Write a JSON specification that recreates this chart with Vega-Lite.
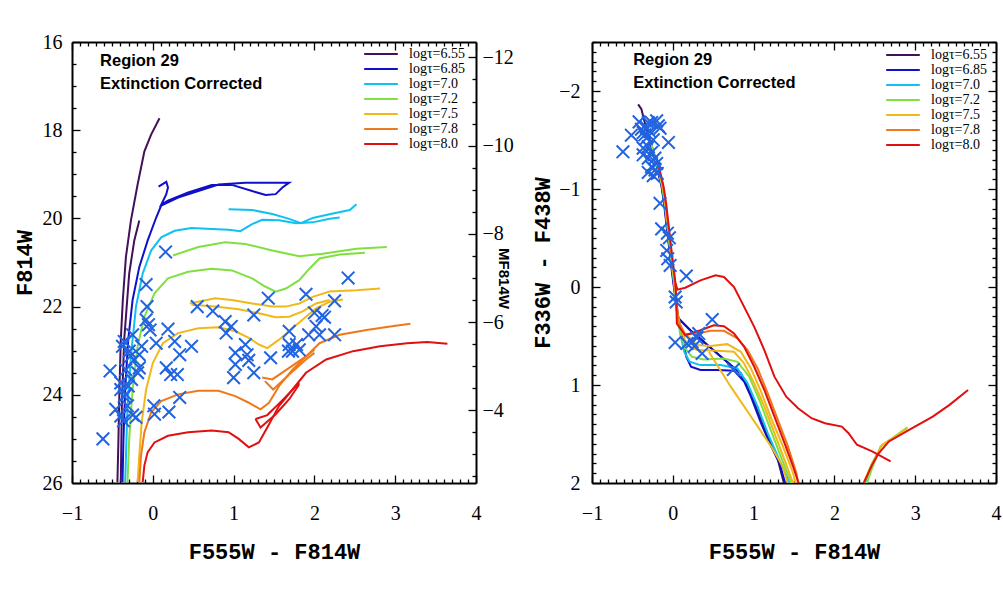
{
"$schema": "https://vega.github.io/schema/vega-lite/v6.json",
"autosize": {"type": "pad"},
"padding": {"left": 13, "top": 32, "right": 5, "bottom": 5},
"background": "white",
"bounds": "flush",
"spacing": 116,
"config": {
  "view": {"stroke": null},
  "axis": {"grid": false, "domainColor": "#000", "domainWidth": 2, "tickColor": "#000", "tickWidth": 1.3,
    "labelFont": "Liberation Serif", "labelFontSize": 20, "labelColor": "#000",
    "titleFont": "Liberation Mono", "titleFontWeight": "bold", "titleFontSize": 22, "titleColor": "#000",
    "labelFlush": false, "labelOverlap": false, "labelBound": false},
  "legend": {"labelColor": "#000"}
},
"datasets": {
"isoL": [
{"a":"6.55","s":"P1","i":0,"x":-0.438,"y":25.98},{"a":"6.55","s":"P1","i":1,"x":-0.425,"y":25.0},{"a":"6.55","s":"P1","i":2,"x":-0.413,"y":23.88},{"a":"6.55","s":"P1","i":3,"x":-0.396,"y":22.75},{"a":"6.55","s":"P1","i":4,"x":-0.371,"y":21.85},{"a":"6.55","s":"P1","i":5,"x":-0.333,"y":20.88},{"a":"6.55","s":"P1","i":6,"x":-0.271,"y":20.05},{"a":"6.55","s":"P1","i":7,"x":-0.188,"y":19.23},{"a":"6.55","s":"P1","i":8,"x":-0.104,"y":18.48},{"a":"6.55","s":"P1","i":9,"x":-0.021,"y":18.1},{"a":"6.55","s":"P1","i":10,"x":0.083,"y":17.73},
{"a":"6.55","s":"P2","i":0,"x":-0.396,"y":25.98},{"a":"6.55","s":"P2","i":1,"x":-0.383,"y":24.25},{"a":"6.55","s":"P2","i":2,"x":-0.354,"y":22.75},{"a":"6.55","s":"P2","i":3,"x":-0.292,"y":21.25},{"a":"6.55","s":"P2","i":4,"x":-0.229,"y":20.5},{"a":"6.55","s":"P2","i":5,"x":-0.167,"y":20.05},
{"a":"6.85","s":"B1","i":0,"x":-0.375,"y":25.98},{"a":"6.85","s":"B1","i":1,"x":-0.363,"y":25.0},{"a":"6.85","s":"B1","i":2,"x":-0.342,"y":23.88},{"a":"6.85","s":"B1","i":3,"x":-0.304,"y":22.75},{"a":"6.85","s":"B1","i":4,"x":-0.25,"y":21.85},{"a":"6.85","s":"B1","i":5,"x":-0.167,"y":21.1},{"a":"6.85","s":"B1","i":6,"x":-0.063,"y":20.5},{"a":"6.85","s":"B1","i":7,"x":0.042,"y":19.98},{"a":"6.85","s":"B1","i":8,"x":0.104,"y":19.71},{"a":"6.85","s":"B1","i":9,"x":0.313,"y":19.53},{"a":"6.85","s":"B1","i":10,"x":0.563,"y":19.38},{"a":"6.85","s":"B1","i":11,"x":0.813,"y":19.23},{"a":"6.85","s":"B1","i":12,"x":1.146,"y":19.19},{"a":"6.85","s":"B1","i":13,"x":1.479,"y":19.19},{"a":"6.85","s":"B1","i":14,"x":1.688,"y":19.19},{"a":"6.85","s":"B1","i":15,"x":1.604,"y":19.3},{"a":"6.85","s":"B1","i":16,"x":1.521,"y":19.45},{"a":"6.85","s":"B1","i":17,"x":1.396,"y":19.47},{"a":"6.85","s":"B1","i":18,"x":1.229,"y":19.38},{"a":"6.85","s":"B1","i":19,"x":0.979,"y":19.24},{"a":"6.85","s":"B1","i":20,"x":0.729,"y":19.24},{"a":"6.85","s":"B1","i":21,"x":0.438,"y":19.41},{"a":"6.85","s":"B1","i":22,"x":0.188,"y":19.6},{"a":"6.85","s":"B1","i":23,"x":0.104,"y":19.69},{"a":"6.85","s":"B1","i":24,"x":0.167,"y":19.45},{"a":"6.85","s":"B1","i":25,"x":0.188,"y":19.3},{"a":"6.85","s":"B1","i":26,"x":0.167,"y":19.17},{"a":"6.85","s":"B1","i":27,"x":0.071,"y":19.28},
{"a":"7.0","s":"C1","i":0,"x":-0.342,"y":25.98},{"a":"7.0","s":"C1","i":1,"x":-0.313,"y":24.25},{"a":"7.0","s":"C1","i":2,"x":-0.271,"y":23.13},{"a":"7.0","s":"C1","i":3,"x":-0.208,"y":22.0},{"a":"7.0","s":"C1","i":4,"x":-0.125,"y":21.25},{"a":"7.0","s":"C1","i":5,"x":-0.021,"y":20.73},{"a":"7.0","s":"C1","i":6,"x":0.104,"y":20.43},{"a":"7.0","s":"C1","i":7,"x":0.271,"y":20.28},{"a":"7.0","s":"C1","i":8,"x":0.479,"y":20.22},{"a":"7.0","s":"C1","i":9,"x":0.729,"y":20.24},{"a":"7.0","s":"C1","i":10,"x":0.938,"y":20.26},{"a":"7.0","s":"C1","i":11,"x":1.083,"y":20.29},{"a":"7.0","s":"C1","i":12,"x":1.229,"y":20.13},{"a":"7.0","s":"C1","i":13,"x":1.354,"y":20.03},{"a":"7.0","s":"C1","i":14,"x":1.563,"y":20.04},{"a":"7.0","s":"C1","i":15,"x":1.771,"y":20.11},{"a":"7.0","s":"C1","i":16,"x":1.979,"y":20.09},{"a":"7.0","s":"C1","i":17,"x":2.188,"y":20.01},{"a":"7.0","s":"C1","i":18,"x":2.313,"y":19.98},
{"a":"7.0","s":"C2","i":0,"x":0.938,"y":19.79},{"a":"7.0","s":"C2","i":1,"x":1.229,"y":19.81},{"a":"7.0","s":"C2","i":2,"x":1.479,"y":19.9},{"a":"7.0","s":"C2","i":3,"x":1.688,"y":20.01},{"a":"7.0","s":"C2","i":4,"x":1.833,"y":20.11},{"a":"7.0","s":"C2","i":5,"x":1.979,"y":19.99},{"a":"7.0","s":"C2","i":6,"x":2.229,"y":19.89},{"a":"7.0","s":"C2","i":7,"x":2.438,"y":19.81},{"a":"7.0","s":"C2","i":8,"x":2.521,"y":19.68},
{"a":"7.2","s":"G1","i":0,"x":-0.313,"y":25.98},{"a":"7.2","s":"G1","i":1,"x":-0.292,"y":25.0},{"a":"7.2","s":"G1","i":2,"x":-0.25,"y":23.88},{"a":"7.2","s":"G1","i":3,"x":-0.188,"y":22.9},{"a":"7.2","s":"G1","i":4,"x":-0.104,"y":22.23},{"a":"7.2","s":"G1","i":5,"x":0.021,"y":21.7},{"a":"7.2","s":"G1","i":6,"x":0.188,"y":21.36},{"a":"7.2","s":"G1","i":7,"x":0.438,"y":21.21},{"a":"7.2","s":"G1","i":8,"x":0.729,"y":21.14},{"a":"7.2","s":"G1","i":9,"x":0.979,"y":21.18},{"a":"7.2","s":"G1","i":10,"x":1.229,"y":21.36},{"a":"7.2","s":"G1","i":11,"x":1.396,"y":21.55},{"a":"7.2","s":"G1","i":12,"x":1.521,"y":21.66},{"a":"7.2","s":"G1","i":13,"x":1.646,"y":21.59},{"a":"7.2","s":"G1","i":14,"x":1.813,"y":21.4},{"a":"7.2","s":"G1","i":15,"x":1.938,"y":21.14},{"a":"7.2","s":"G1","i":16,"x":2.063,"y":20.91},{"a":"7.2","s":"G1","i":17,"x":2.313,"y":20.82},{"a":"7.2","s":"G1","i":18,"x":2.625,"y":20.78},
{"a":"7.2","s":"G2","i":0,"x":0.25,"y":20.84},{"a":"7.2","s":"G2","i":1,"x":0.563,"y":20.65},{"a":"7.2","s":"G2","i":2,"x":0.896,"y":20.54},{"a":"7.2","s":"G2","i":3,"x":1.146,"y":20.58},{"a":"7.2","s":"G2","i":4,"x":1.479,"y":20.73},{"a":"7.2","s":"G2","i":5,"x":1.813,"y":20.86},{"a":"7.2","s":"G2","i":6,"x":2.104,"y":20.8},{"a":"7.2","s":"G2","i":7,"x":2.521,"y":20.69},{"a":"7.2","s":"G2","i":8,"x":2.896,"y":20.65},
{"a":"7.5","s":"Y1","i":0,"x":-0.188,"y":25.98},{"a":"7.5","s":"Y1","i":1,"x":-0.167,"y":25.38},{"a":"7.5","s":"Y1","i":2,"x":-0.138,"y":24.63},{"a":"7.5","s":"Y1","i":3,"x":-0.083,"y":23.88},{"a":"7.5","s":"Y1","i":4,"x":0.0,"y":23.28},{"a":"7.5","s":"Y1","i":5,"x":0.125,"y":22.83},{"a":"7.5","s":"Y1","i":6,"x":0.313,"y":22.6},{"a":"7.5","s":"Y1","i":7,"x":0.563,"y":22.49},{"a":"7.5","s":"Y1","i":8,"x":0.813,"y":22.47},{"a":"7.5","s":"Y1","i":9,"x":1.021,"y":22.56},{"a":"7.5","s":"Y1","i":10,"x":1.188,"y":22.71},{"a":"7.5","s":"Y1","i":11,"x":1.313,"y":22.86},{"a":"7.5","s":"Y1","i":12,"x":1.417,"y":22.94},{"a":"7.5","s":"Y1","i":13,"x":1.563,"y":22.75},{"a":"7.5","s":"Y1","i":14,"x":1.729,"y":22.49},{"a":"7.5","s":"Y1","i":15,"x":1.896,"y":22.23},{"a":"7.5","s":"Y1","i":16,"x":2.021,"y":22.04},{"a":"7.5","s":"Y1","i":17,"x":2.188,"y":21.89},{"a":"7.5","s":"Y1","i":18,"x":2.354,"y":21.84},
{"a":"7.5","s":"Y2","i":0,"x":0.458,"y":21.93},{"a":"7.5","s":"Y2","i":1,"x":0.771,"y":21.81},{"a":"7.5","s":"Y2","i":2,"x":0.979,"y":21.85},{"a":"7.5","s":"Y2","i":3,"x":1.229,"y":21.93},{"a":"7.5","s":"Y2","i":4,"x":1.479,"y":22.0},{"a":"7.5","s":"Y2","i":5,"x":1.646,"y":22.0},{"a":"7.5","s":"Y2","i":6,"x":1.813,"y":21.93},{"a":"7.5","s":"Y2","i":7,"x":1.979,"y":21.78},{"a":"7.5","s":"Y2","i":8,"x":2.188,"y":21.66},{"a":"7.5","s":"Y2","i":9,"x":2.521,"y":21.63},{"a":"7.5","s":"Y2","i":10,"x":2.813,"y":21.59},
{"a":"7.5","s":"Y3","i":0,"x":0.479,"y":21.96},{"a":"7.5","s":"Y3","i":1,"x":0.771,"y":22.0},{"a":"7.5","s":"Y3","i":2,"x":1.063,"y":22.06},{"a":"7.5","s":"Y3","i":3,"x":1.313,"y":22.15},{"a":"7.5","s":"Y3","i":4,"x":1.521,"y":22.24},{"a":"7.5","s":"Y3","i":5,"x":1.688,"y":22.23},{"a":"7.5","s":"Y3","i":6,"x":1.854,"y":22.11},{"a":"7.5","s":"Y3","i":7,"x":2.021,"y":21.93},{"a":"7.5","s":"Y3","i":8,"x":2.188,"y":21.85},
{"a":"7.8","s":"O1","i":0,"x":-0.167,"y":25.98},{"a":"7.8","s":"O1","i":1,"x":-0.146,"y":25.38},{"a":"7.8","s":"O1","i":2,"x":-0.104,"y":24.85},{"a":"7.8","s":"O1","i":3,"x":-0.021,"y":24.4},{"a":"7.8","s":"O1","i":4,"x":0.104,"y":24.14},{"a":"7.8","s":"O1","i":5,"x":0.313,"y":23.99},{"a":"7.8","s":"O1","i":6,"x":0.563,"y":23.91},{"a":"7.8","s":"O1","i":7,"x":0.813,"y":23.91},{"a":"7.8","s":"O1","i":8,"x":1.021,"y":24.03},{"a":"7.8","s":"O1","i":9,"x":1.188,"y":24.18},{"a":"7.8","s":"O1","i":10,"x":1.333,"y":24.33},{"a":"7.8","s":"O1","i":11,"x":1.438,"y":24.18},{"a":"7.8","s":"O1","i":12,"x":1.563,"y":23.8},{"a":"7.8","s":"O1","i":13,"x":1.729,"y":23.43},{"a":"7.8","s":"O1","i":14,"x":1.896,"y":23.13},{"a":"7.8","s":"O1","i":15,"x":2.063,"y":22.83},{"a":"7.8","s":"O1","i":16,"x":2.313,"y":22.64},{"a":"7.8","s":"O1","i":17,"x":2.646,"y":22.53},{"a":"7.8","s":"O1","i":18,"x":2.938,"y":22.45},{"a":"7.8","s":"O1","i":19,"x":3.188,"y":22.39},
{"a":"7.8","s":"O2","i":0,"x":1.354,"y":23.61},{"a":"7.8","s":"O2","i":1,"x":1.479,"y":23.65},{"a":"7.8","s":"O2","i":2,"x":1.688,"y":23.39},{"a":"7.8","s":"O2","i":3,"x":1.896,"y":23.13},{"a":"7.8","s":"O2","i":4,"x":2.0,"y":22.98},
{"a":"7.8","s":"O3","i":0,"x":1.388,"y":23.69},{"a":"7.8","s":"O3","i":1,"x":1.49,"y":23.88},{"a":"7.8","s":"O3","i":2,"x":1.688,"y":23.54},{"a":"7.8","s":"O3","i":3,"x":1.896,"y":23.2},{"a":"7.8","s":"O3","i":4,"x":2.0,"y":23.05},
{"a":"8.0","s":"R1","i":0,"x":-0.125,"y":25.98},{"a":"8.0","s":"R1","i":1,"x":-0.104,"y":25.6},{"a":"8.0","s":"R1","i":2,"x":-0.063,"y":25.3},{"a":"8.0","s":"R1","i":3,"x":0.021,"y":25.08},{"a":"8.0","s":"R1","i":4,"x":0.188,"y":24.93},{"a":"8.0","s":"R1","i":5,"x":0.438,"y":24.85},{"a":"8.0","s":"R1","i":6,"x":0.729,"y":24.81},{"a":"8.0","s":"R1","i":7,"x":0.938,"y":24.85},{"a":"8.0","s":"R1","i":8,"x":1.063,"y":25.0},{"a":"8.0","s":"R1","i":9,"x":1.188,"y":25.19},{"a":"8.0","s":"R1","i":10,"x":1.313,"y":25.08},{"a":"8.0","s":"R1","i":11,"x":1.417,"y":24.74},{"a":"8.0","s":"R1","i":12,"x":1.563,"y":24.25},{"a":"8.0","s":"R1","i":13,"x":1.729,"y":23.88},{"a":"8.0","s":"R1","i":14,"x":1.896,"y":23.5},{"a":"8.0","s":"R1","i":15,"x":2.146,"y":23.2},{"a":"8.0","s":"R1","i":16,"x":2.479,"y":23.01},{"a":"8.0","s":"R1","i":17,"x":2.813,"y":22.9},{"a":"8.0","s":"R1","i":18,"x":3.146,"y":22.83},{"a":"8.0","s":"R1","i":19,"x":3.396,"y":22.8},{"a":"8.0","s":"R1","i":20,"x":3.646,"y":22.84},
{"a":"8.0","s":"R2","i":0,"x":1.271,"y":24.55},{"a":"8.0","s":"R2","i":1,"x":1.333,"y":24.74},{"a":"8.0","s":"R2","i":2,"x":1.521,"y":24.44},{"a":"8.0","s":"R2","i":3,"x":1.688,"y":24.1},{"a":"8.0","s":"R2","i":4,"x":1.813,"y":23.76},
{"a":"8.0","s":"R3","i":0,"x":1.271,"y":24.55},{"a":"8.0","s":"R3","i":1,"x":1.417,"y":24.46},{"a":"8.0","s":"R3","i":2,"x":1.583,"y":24.16},{"a":"8.0","s":"R3","i":3,"x":1.813,"y":23.73}
],
"ptsL": [
{"x":-0.617,"y":25.0},{"x":-0.529,"y":23.46},{"x":0.158,"y":20.76},{"x":-0.083,"y":21.5},{"x":-0.071,"y":22.0},{"x":-0.083,"y":22.3},{"x":-0.054,"y":22.41},{"x":-0.033,"y":22.53},{"x":0.188,"y":22.51},{"x":0.271,"y":22.79},{"x":0.042,"y":22.83},{"x":0.479,"y":22.9},{"x":0.333,"y":23.09},{"x":0.167,"y":23.39},{"x":0.221,"y":23.54},{"x":0.304,"y":23.54},{"x":0.333,"y":24.06},{"x":0.013,"y":24.25},{"x":0.021,"y":24.44},{"x":0.2,"y":24.39},{"x":-0.208,"y":24.51},{"x":-0.458,"y":24.33},{"x":-0.396,"y":24.48},{"x":-0.363,"y":24.59},{"x":-0.333,"y":23.99},{"x":-0.396,"y":23.88},{"x":-0.354,"y":24.04},{"x":-0.304,"y":23.8},{"x":-0.263,"y":23.65},{"x":-0.396,"y":23.73},{"x":-0.188,"y":23.5},{"x":-0.167,"y":23.39},{"x":-0.229,"y":23.2},{"x":-0.167,"y":23.09},{"x":-0.138,"y":22.9},{"x":-0.292,"y":23.01},{"x":-0.375,"y":22.9},{"x":-0.354,"y":22.79},{"x":-0.25,"y":22.64},{"x":-0.279,"y":23.13},{"x":-0.333,"y":23.43},{"x":-0.313,"y":24.25},{"x":-0.25,"y":24.46},{"x":0.55,"y":22.0},{"x":0.742,"y":22.1},{"x":0.896,"y":22.34},{"x":0.971,"y":22.45},{"x":0.908,"y":22.6},{"x":1.25,"y":22.19},{"x":1.429,"y":21.81},{"x":1.896,"y":21.72},{"x":2.417,"y":21.35},{"x":2.25,"y":21.87},{"x":2.0,"y":22.14},{"x":2.096,"y":22.2},{"x":2.125,"y":22.24},{"x":1.688,"y":22.56},{"x":1.929,"y":22.64},{"x":2.063,"y":22.64},{"x":2.021,"y":22.45},{"x":2.25,"y":22.64},{"x":1.688,"y":22.86},{"x":1.779,"y":22.86},{"x":1.729,"y":23.01},{"x":1.813,"y":22.98},{"x":1.679,"y":23.01},{"x":1.021,"y":23.05},{"x":1.146,"y":22.86},{"x":1.167,"y":23.09},{"x":1.188,"y":23.22},{"x":1.021,"y":23.31},{"x":1.0,"y":23.61},{"x":1.25,"y":23.5},{"x":1.458,"y":23.16}
],
"isoR": [
{"a":"6.55","s":"p","i":0,"x":-0.429,"y":-1.864},{"a":"6.55","s":"p","i":1,"x":-0.388,"y":-1.814},{"a":"6.55","s":"p","i":2,"x":-0.358,"y":-1.712},{"a":"6.55","s":"p","i":3,"x":-0.317,"y":-1.593},{"a":"6.55","s":"p","i":4,"x":-0.275,"y":-1.458},{"a":"6.55","s":"p","i":5,"x":-0.221,"y":-1.305},{"a":"6.55","s":"p","i":6,"x":-0.171,"y":-1.136},{"a":"6.55","s":"p","i":7,"x":-0.138,"y":-1.017},{"a":"6.55","s":"p","i":8,"x":-0.108,"y":-0.847},{"a":"6.55","s":"p","i":9,"x":-0.075,"y":-0.61},{"a":"6.55","s":"p","i":10,"x":-0.042,"y":-0.373},{"a":"6.55","s":"p","i":11,"x":-0.013,"y":-0.169},{"a":"6.55","s":"p","i":12,"x":0.008,"y":-0.034},{"a":"6.55","s":"p","i":13,"x":0.042,"y":0.169},{"a":"6.55","s":"p","i":14,"x":0.071,"y":0.322},{"a":"6.55","s":"p","i":15,"x":0.217,"y":0.441},{"a":"6.55","s":"p","i":16,"x":0.383,"y":0.559},{"a":"6.55","s":"p","i":17,"x":0.55,"y":0.678},{"a":"6.55","s":"p","i":18,"x":0.717,"y":0.797},{"a":"6.55","s":"p","i":19,"x":0.842,"y":0.881},{"a":"6.55","s":"p","i":20,"x":0.925,"y":1.017},{"a":"6.55","s":"p","i":21,"x":1.05,"y":1.254},{"a":"6.55","s":"p","i":22,"x":1.175,"y":1.525},{"a":"6.55","s":"p","i":23,"x":1.3,"y":1.763},{"a":"6.55","s":"p","i":24,"x":1.375,"y":2.0},
{"a":"6.85","s":"b1","i":0,"x":-0.313,"y":-1.593},{"a":"6.85","s":"b1","i":1,"x":-0.271,"y":-1.458},{"a":"6.85","s":"b1","i":2,"x":-0.217,"y":-1.305},{"a":"6.85","s":"b1","i":3,"x":-0.167,"y":-1.136},{"a":"6.85","s":"b1","i":4,"x":-0.134,"y":-1.017},{"a":"6.85","s":"b1","i":5,"x":-0.104,"y":-0.847},{"a":"6.85","s":"b1","i":6,"x":-0.071,"y":-0.61},{"a":"6.85","s":"b1","i":7,"x":-0.038,"y":-0.373},{"a":"6.85","s":"b1","i":8,"x":-0.009,"y":-0.169},{"a":"6.85","s":"b1","i":9,"x":0.012,"y":-0.034},{"a":"6.85","s":"b1","i":10,"x":0.029,"y":0.068},{"a":"6.85","s":"b1","i":11,"x":0.058,"y":0.271},{"a":"6.85","s":"b1","i":12,"x":0.113,"y":0.475},{"a":"6.85","s":"b1","i":13,"x":0.167,"y":0.712},{"a":"6.85","s":"b1","i":14,"x":0.225,"y":0.814},{"a":"6.85","s":"b1","i":15,"x":0.342,"y":0.847},{"a":"6.85","s":"b1","i":16,"x":0.55,"y":0.847},{"a":"6.85","s":"b1","i":17,"x":0.758,"y":0.854},{"a":"6.85","s":"b1","i":18,"x":0.883,"y":0.966},{"a":"6.85","s":"b1","i":19,"x":0.967,"y":1.119},{"a":"6.85","s":"b1","i":20,"x":1.092,"y":1.39},{"a":"6.85","s":"b1","i":21,"x":1.217,"y":1.627},{"a":"6.85","s":"b1","i":22,"x":1.321,"y":1.797},{"a":"6.85","s":"b1","i":23,"x":1.39,"y":2.0},
{"a":"6.85","s":"b2","i":0,"x":0.071,"y":0.322},{"a":"6.85","s":"b2","i":1,"x":0.217,"y":0.441},{"a":"6.85","s":"b2","i":2,"x":0.383,"y":0.559},{"a":"6.85","s":"b2","i":3,"x":0.55,"y":0.678},{"a":"6.85","s":"b2","i":4,"x":0.717,"y":0.797},{"a":"6.85","s":"b2","i":5,"x":0.842,"y":0.881},{"a":"6.85","s":"b2","i":6,"x":0.883,"y":0.966},
{"a":"7.0","s":"c","i":0,"x":-0.267,"y":-1.458},{"a":"7.0","s":"c","i":1,"x":-0.213,"y":-1.305},{"a":"7.0","s":"c","i":2,"x":-0.163,"y":-1.136},{"a":"7.0","s":"c","i":3,"x":-0.13,"y":-1.017},{"a":"7.0","s":"c","i":4,"x":-0.1,"y":-0.847},{"a":"7.0","s":"c","i":5,"x":-0.067,"y":-0.61},{"a":"7.0","s":"c","i":6,"x":-0.034,"y":-0.373},{"a":"7.0","s":"c","i":7,"x":-0.005,"y":-0.169},{"a":"7.0","s":"c","i":8,"x":0.016,"y":-0.034},{"a":"7.0","s":"c","i":9,"x":0.042,"y":0.203},{"a":"7.0","s":"c","i":10,"x":0.092,"y":0.475},{"a":"7.0","s":"c","i":11,"x":0.142,"y":0.661},{"a":"7.0","s":"c","i":12,"x":0.208,"y":0.763},{"a":"7.0","s":"c","i":13,"x":0.342,"y":0.797},{"a":"7.0","s":"c","i":14,"x":0.592,"y":0.797},{"a":"7.0","s":"c","i":15,"x":0.8,"y":0.831},{"a":"7.0","s":"c","i":16,"x":0.925,"y":0.983},{"a":"7.0","s":"c","i":17,"x":1.05,"y":1.22},{"a":"7.0","s":"c","i":18,"x":1.175,"y":1.492},{"a":"7.0","s":"c","i":19,"x":1.3,"y":1.729},{"a":"7.0","s":"c","i":20,"x":1.446,"y":2.0},
{"a":"7.0","s":"c2","i":0,"x":2.38,"y":2.0},{"a":"7.0","s":"c2","i":1,"x":2.44,"y":1.85},{"a":"7.0","s":"c2","i":2,"x":2.52,"y":1.72},
{"a":"7.2","s":"g1","i":0,"x":-0.263,"y":-1.458},{"a":"7.2","s":"g1","i":1,"x":-0.209,"y":-1.305},{"a":"7.2","s":"g1","i":2,"x":-0.159,"y":-1.136},{"a":"7.2","s":"g1","i":3,"x":-0.126,"y":-1.017},{"a":"7.2","s":"g1","i":4,"x":-0.096,"y":-0.847},{"a":"7.2","s":"g1","i":5,"x":-0.063,"y":-0.61},{"a":"7.2","s":"g1","i":6,"x":-0.03,"y":-0.373},{"a":"7.2","s":"g1","i":7,"x":-0.001,"y":-0.169},{"a":"7.2","s":"g1","i":8,"x":0.02,"y":-0.034},{"a":"7.2","s":"g1","i":9,"x":0.05,"y":0.237},{"a":"7.2","s":"g1","i":10,"x":0.1,"y":0.492},{"a":"7.2","s":"g1","i":11,"x":0.154,"y":0.627},{"a":"7.2","s":"g1","i":12,"x":0.238,"y":0.712},{"a":"7.2","s":"g1","i":13,"x":0.383,"y":0.739},{"a":"7.2","s":"g1","i":14,"x":0.633,"y":0.729},{"a":"7.2","s":"g1","i":15,"x":0.8,"y":0.763},{"a":"7.2","s":"g1","i":16,"x":0.946,"y":0.915},{"a":"7.2","s":"g1","i":17,"x":1.071,"y":1.153},{"a":"7.2","s":"g1","i":18,"x":1.196,"y":1.424},{"a":"7.2","s":"g1","i":19,"x":1.321,"y":1.695},{"a":"7.2","s":"g1","i":20,"x":1.467,"y":2.0},
{"a":"7.2","s":"g2","i":0,"x":2.4,"y":2.0},{"a":"7.2","s":"g2","i":1,"x":2.446,"y":1.898},{"a":"7.2","s":"g2","i":2,"x":2.571,"y":1.627},{"a":"7.2","s":"g2","i":3,"x":2.717,"y":1.542},{"a":"7.2","s":"g2","i":4,"x":2.904,"y":1.431},
{"a":"7.5","s":"y1","i":0,"x":-0.205,"y":-1.305},{"a":"7.5","s":"y1","i":1,"x":-0.155,"y":-1.136},{"a":"7.5","s":"y1","i":2,"x":-0.122,"y":-1.017},{"a":"7.5","s":"y1","i":3,"x":-0.092,"y":-0.847},{"a":"7.5","s":"y1","i":4,"x":-0.059,"y":-0.61},{"a":"7.5","s":"y1","i":5,"x":-0.026,"y":-0.373},{"a":"7.5","s":"y1","i":6,"x":0.004,"y":-0.169},{"a":"7.5","s":"y1","i":7,"x":0.024,"y":-0.034},{"a":"7.5","s":"y1","i":8,"x":0.058,"y":0.271},{"a":"7.5","s":"y1","i":9,"x":0.113,"y":0.458},{"a":"7.5","s":"y1","i":10,"x":0.175,"y":0.593},{"a":"7.5","s":"y1","i":11,"x":0.3,"y":0.644},{"a":"7.5","s":"y1","i":12,"x":0.55,"y":0.651},{"a":"7.5","s":"y1","i":13,"x":0.758,"y":0.661},{"a":"7.5","s":"y1","i":14,"x":0.883,"y":0.78},{"a":"7.5","s":"y1","i":15,"x":1.008,"y":0.983},{"a":"7.5","s":"y1","i":16,"x":1.133,"y":1.22},{"a":"7.5","s":"y1","i":17,"x":1.258,"y":1.492},{"a":"7.5","s":"y1","i":18,"x":1.383,"y":1.763},{"a":"7.5","s":"y1","i":19,"x":1.488,"y":2.0},
{"a":"7.5","s":"y2","i":0,"x":0.154,"y":0.475},{"a":"7.5","s":"y2","i":1,"x":0.3,"y":0.593},{"a":"7.5","s":"y2","i":2,"x":0.467,"y":0.603},{"a":"7.5","s":"y2","i":3,"x":0.675,"y":0.583},{"a":"7.5","s":"y2","i":4,"x":0.842,"y":0.661},{"a":"7.5","s":"y2","i":5,"x":0.967,"y":0.831},{"a":"7.5","s":"y2","i":6,"x":1.092,"y":1.068},{"a":"7.5","s":"y2","i":7,"x":1.217,"y":1.339},{"a":"7.5","s":"y2","i":8,"x":1.363,"y":1.627},{"a":"7.5","s":"y2","i":9,"x":1.488,"y":1.898},{"a":"7.5","s":"y2","i":10,"x":1.52,"y":2.0},
{"a":"7.5","s":"y3","i":0,"x":0.446,"y":0.661},{"a":"7.5","s":"y3","i":1,"x":0.717,"y":1.017},{"a":"7.5","s":"y3","i":2,"x":0.967,"y":1.322},{"a":"7.5","s":"y3","i":3,"x":1.217,"y":1.627},{"a":"7.5","s":"y3","i":4,"x":1.363,"y":1.831},{"a":"7.5","s":"y3","i":5,"x":1.42,"y":2.0},
{"a":"7.5","s":"y4","i":0,"x":2.363,"y":2.0},{"a":"7.5","s":"y4","i":1,"x":2.467,"y":1.797},{"a":"7.5","s":"y4","i":2,"x":2.592,"y":1.61},{"a":"7.5","s":"y4","i":3,"x":2.758,"y":1.525},{"a":"7.5","s":"y4","i":4,"x":2.904,"y":1.441},
{"a":"7.8","s":"o","i":0,"x":-0.201,"y":-1.305},{"a":"7.8","s":"o","i":1,"x":-0.151,"y":-1.136},{"a":"7.8","s":"o","i":2,"x":-0.118,"y":-1.017},{"a":"7.8","s":"o","i":3,"x":-0.088,"y":-0.847},{"a":"7.8","s":"o","i":4,"x":-0.055,"y":-0.61},{"a":"7.8","s":"o","i":5,"x":-0.022,"y":-0.373},{"a":"7.8","s":"o","i":6,"x":0.008,"y":-0.169},{"a":"7.8","s":"o","i":7,"x":0.028,"y":-0.034},{"a":"7.8","s":"o","i":8,"x":0.071,"y":0.356},{"a":"7.8","s":"o","i":9,"x":0.154,"y":0.481},{"a":"7.8","s":"o","i":10,"x":0.3,"y":0.475},{"a":"7.8","s":"o","i":11,"x":0.467,"y":0.447},{"a":"7.8","s":"o","i":12,"x":0.633,"y":0.447},{"a":"7.8","s":"o","i":13,"x":0.8,"y":0.525},{"a":"7.8","s":"o","i":14,"x":0.925,"y":0.644},{"a":"7.8","s":"o","i":15,"x":1.05,"y":0.831},{"a":"7.8","s":"o","i":16,"x":1.175,"y":1.085},{"a":"7.8","s":"o","i":17,"x":1.3,"y":1.356},{"a":"7.8","s":"o","i":18,"x":1.425,"y":1.627},{"a":"7.8","s":"o","i":19,"x":1.529,"y":1.898},{"a":"7.8","s":"o","i":20,"x":1.55,"y":2.0},
{"a":"8.0","s":"r1","i":0,"x":-0.195,"y":-1.305},{"a":"8.0","s":"r1","i":1,"x":-0.145,"y":-1.136},{"a":"8.0","s":"r1","i":2,"x":-0.112,"y":-1.017},{"a":"8.0","s":"r1","i":3,"x":-0.082,"y":-0.847},{"a":"8.0","s":"r1","i":4,"x":-0.049,"y":-0.61},{"a":"8.0","s":"r1","i":5,"x":-0.016,"y":-0.373},{"a":"8.0","s":"r1","i":6,"x":0.014,"y":-0.169},{"a":"8.0","s":"r1","i":7,"x":0.034,"y":-0.034},{"a":"8.0","s":"r1","i":8,"x":0.045,"y":0.2},{"a":"8.0","s":"r1","i":9,"x":0.05,"y":0.373},{"a":"8.0","s":"r1","i":10,"x":0.154,"y":0.492},{"a":"8.0","s":"r1","i":11,"x":0.342,"y":0.441},{"a":"8.0","s":"r1","i":12,"x":0.508,"y":0.39},{"a":"8.0","s":"r1","i":13,"x":0.633,"y":0.4},{"a":"8.0","s":"r1","i":14,"x":0.758,"y":0.475},{"a":"8.0","s":"r1","i":15,"x":0.883,"y":0.61},{"a":"8.0","s":"r1","i":16,"x":1.008,"y":0.814},{"a":"8.0","s":"r1","i":17,"x":1.133,"y":1.051},{"a":"8.0","s":"r1","i":18,"x":1.258,"y":1.322},{"a":"8.0","s":"r1","i":19,"x":1.383,"y":1.593},{"a":"8.0","s":"r1","i":20,"x":1.488,"y":1.831},{"a":"8.0","s":"r1","i":21,"x":1.558,"y":2.0},
{"a":"8.0","s":"r2","i":0,"x":0.034,"y":-0.034},{"a":"8.0","s":"r2","i":1,"x":0.058,"y":0.027},{"a":"8.0","s":"r2","i":2,"x":0.154,"y":0.007},{"a":"8.0","s":"r2","i":3,"x":0.342,"y":-0.068},{"a":"8.0","s":"r2","i":4,"x":0.529,"y":-0.119},{"a":"8.0","s":"r2","i":5,"x":0.633,"y":-0.102},{"a":"8.0","s":"r2","i":6,"x":0.758,"y":0.0},{"a":"8.0","s":"r2","i":7,"x":0.883,"y":0.203},{"a":"8.0","s":"r2","i":8,"x":1.008,"y":0.407},{"a":"8.0","s":"r2","i":9,"x":1.133,"y":0.644},{"a":"8.0","s":"r2","i":10,"x":1.258,"y":0.915},{"a":"8.0","s":"r2","i":11,"x":1.404,"y":1.119},{"a":"8.0","s":"r2","i":12,"x":1.55,"y":1.237},{"a":"8.0","s":"r2","i":13,"x":1.717,"y":1.339},{"a":"8.0","s":"r2","i":14,"x":1.883,"y":1.39},{"a":"8.0","s":"r2","i":15,"x":2.092,"y":1.424},{"a":"8.0","s":"r2","i":16,"x":2.175,"y":1.492},{"a":"8.0","s":"r2","i":17,"x":2.279,"y":1.61},{"a":"8.0","s":"r2","i":18,"x":2.467,"y":1.678},{"a":"8.0","s":"r2","i":19,"x":2.696,"y":1.78},
{"a":"8.0","s":"r3","i":0,"x":2.363,"y":2.0},{"a":"8.0","s":"r3","i":1,"x":2.467,"y":1.814},{"a":"8.0","s":"r3","i":2,"x":2.55,"y":1.695},{"a":"8.0","s":"r3","i":3,"x":2.675,"y":1.576},{"a":"8.0","s":"r3","i":4,"x":2.925,"y":1.458},{"a":"8.0","s":"r3","i":5,"x":3.217,"y":1.322},{"a":"8.0","s":"r3","i":6,"x":3.425,"y":1.203},{"a":"8.0","s":"r3","i":7,"x":3.654,"y":1.051}
],
"ptsR": [
{"x":-0.617,"y":-1.38},{"x":-0.513,"y":-1.549},{"x":-0.417,"y":-1.685},{"x":-0.388,"y":-1.61},{"x":-0.367,"y":-1.576},{"x":-0.346,"y":-1.553},{"x":-0.325,"y":-1.627},{"x":-0.304,"y":-1.678},{"x":-0.263,"y":-1.678},{"x":-0.2,"y":-1.695},{"x":-0.179,"y":-1.644},{"x":-0.158,"y":-1.62},{"x":-0.283,"y":-1.586},{"x":-0.325,"y":-1.519},{"x":-0.242,"y":-1.502},{"x":-0.367,"y":-1.417},{"x":-0.304,"y":-1.431},{"x":-0.263,"y":-1.373},{"x":-0.367,"y":-1.349},{"x":-0.304,"y":-1.315},{"x":-0.221,"y":-1.315},{"x":-0.2,"y":-1.261},{"x":-0.263,"y":-1.227},{"x":-0.221,"y":-1.193},{"x":-0.304,"y":-1.169},{"x":-0.242,"y":-1.136},{"x":-0.192,"y":-1.159},{"x":-0.054,"y":-1.475},{"x":-0.158,"y":-0.854},{"x":-0.138,"y":-0.593},{"x":-0.067,"y":-0.549},{"x":-0.042,"y":-0.502},{"x":-0.075,"y":-0.373},{"x":-0.063,"y":-0.288},{"x":-0.033,"y":-0.22},{"x":0.167,"y":-0.112},{"x":0.029,"y":0.102},{"x":0.042,"y":0.153},{"x":0.029,"y":0.566},{"x":0.175,"y":0.576},{"x":0.238,"y":0.559},{"x":0.267,"y":0.603},{"x":0.321,"y":0.475},{"x":0.3,"y":0.519},{"x":0.363,"y":0.678},{"x":0.488,"y":0.332},{"x":0.75,"y":0.841}
]
},
"resolve": {"scale": {"color": "independent"}, "legend": {"color": "independent"}},
"hconcat": [
{
 "width": 404, "height": 441,
 "resolve": {"axis": {"x": "independent", "y": "independent"}},
 "layer": [
  {
   "data": {"name": "isoL"},
   "mark": {"type": "line", "strokeWidth": 2, "clip": true},
   "encoding": {
    "x": {"field": "x", "type": "quantitative", "scale": {"domain": [-1, 4], "nice": false, "zero": false},
      "axis": {"orient": "bottom", "values": [-1,-0.9,-0.8,-0.7,-0.6,-0.5,-0.4,-0.3,-0.2,-0.1,0,0.1,0.2,0.3,0.4,0.5,0.6,0.7,0.8,0.9,1,1.1,1.2,1.3,1.4,1.5,1.6,1.7,1.8,1.9,2,2.1,2.2,2.3,2.4,2.5,2.6,2.7,2.8,2.9,3,3.1,3.2,3.3,3.4,3.5,3.6,3.7,3.8,3.9,4],
        "labelExpr": "abs(datum.value - round(datum.value)) < 0.001 ? format(round(datum.value), 'd') : ''",
        "tickSize": {"condition": {"test": "abs(datum.value - round(datum.value)) < 0.001", "value": -8}, "value": -4},
        "labelPadding": 28, "title": "F555W - F814W", "titlePadding": 14}},
    "y": {"field": "y", "type": "quantitative", "scale": {"domain": [16, 26], "reverse": true, "nice": false, "zero": false},
      "axis": {"orient": "left", "values": [16,16.5,17,17.5,18,18.5,19,19.5,20,20.5,21,21.5,22,22.5,23,23.5,24,24.5,25,25.5,26],
        "labelExpr": "abs(datum.value/2 - round(datum.value/2)) < 0.001 ? format(datum.value, 'd') : ''",
        "tickSize": {"condition": {"test": "abs(datum.value/2 - round(datum.value/2)) < 0.001", "value": -8}, "value": -4},
        "labelPadding": 18, "title": "F814W", "titlePadding": 6}},
    "color": {"field": "a", "type": "nominal",
      "scale": {"domain": ["6.55","6.85","7.0","7.2","7.5","7.8","8.0"], "range": ["#43105a","#1010c8","#10c0f0","#80e040","#f0b818","#f07818","#e01010"]},
      "legend": {"title": null, "orient": "none", "legendX": 301, "legendY": 4, "symbolType": "M-2.4,0H2.4", "symbolSize": 196, "symbolStrokeWidth": 2,
        "labelFont": "Liberation Serif", "labelFontSize": 14, "labelExpr": "'logτ=' + datum.label", "rowPadding": -1, "padding": 0, "labelOffset": 20}},
    "detail": {"field": "s"},
    "order": {"field": "i", "type": "quantitative"}
   }
  },
  {
   "data": {"name": "ptsL"},
   "mark": {"type": "point", "shape": "M-1,-1L1,1M-1,1L1,-1", "filled": false, "size": 160, "strokeWidth": 2, "color": "#2163e0", "opacity": 1},
   "encoding": {
    "x": {"field": "x", "type": "quantitative", "scale": {"domain": [-1, 4], "nice": false, "zero": false},
      "axis": {"orient": "top", "values": [-1,-0.9,-0.8,-0.7,-0.6,-0.5,-0.4,-0.3,-0.2,-0.1,0,0.1,0.2,0.3,0.4,0.5,0.6,0.7,0.8,0.9,1,1.1,1.2,1.3,1.4,1.5,1.6,1.7,1.8,1.9,2,2.1,2.2,2.3,2.4,2.5,2.6,2.7,2.8,2.9,3,3.1,3.2,3.3,3.4,3.5,3.6,3.7,3.8,3.9,4],
        "labels": false, "title": null,
        "tickSize": {"condition": {"test": "abs(datum.value - round(datum.value)) < 0.001", "value": -8}, "value": -4}}},
    "y": {"field": "y", "type": "quantitative", "scale": {"domain": [16, 26], "reverse": true, "nice": false, "zero": false},
      "axis": {"orient": "right", "values": [16.35,16.85,17.35,17.85,18.35,18.85,19.35,19.85,20.35,20.85,21.35,21.85,22.35,22.85,23.35,23.85,24.35,24.85,25.35,25.85],
        "labelExpr": "abs((datum.value-16.35)/2 - round((datum.value-16.35)/2)) < 0.001 ? format(round(datum.value - 28.35), 'd') : ''",
        "tickSize": {"condition": {"test": "abs((datum.value-16.35)/2 - round((datum.value-16.35)/2)) < 0.001", "value": -8}, "value": -4},
        "labelPadding": 14, "title": "MF814W", "titleFont": "Liberation Sans", "titleFontSize": 15, "titlePadding": -18, "titleY": 236}}
   }
  },
  {
   "data": {"values": [{"t": "Region 29"}]},
   "mark": {"type": "text", "align": "left", "baseline": "middle", "font": "Liberation Sans", "fontWeight": "bold", "fontSize": 16.5, "color": "#000"},
   "encoding": {
    "text": {"field": "t"},
    "x": {"datum": -0.653, "type": "quantitative", "scale": {"domain": [-1, 4], "nice": false, "zero": false}, "axis": null},
    "y": {"datum": 16.44, "type": "quantitative", "scale": {"domain": [16, 26], "reverse": true, "nice": false, "zero": false}, "axis": null}
   }
  },
  {
   "data": {"values": [{"t": "Extinction Corrected"}]},
   "mark": {"type": "text", "align": "left", "baseline": "middle", "font": "Liberation Sans", "fontWeight": "bold", "fontSize": 16.5, "color": "#000"},
   "encoding": {
    "text": {"field": "t"},
    "x": {"datum": -0.653, "type": "quantitative", "scale": {"domain": [-1, 4], "nice": false, "zero": false}, "axis": null},
    "y": {"datum": 16.96, "type": "quantitative", "scale": {"domain": [16, 26], "reverse": true, "nice": false, "zero": false}, "axis": null}
   }
  }
 ]
},
{
 "width": 404, "height": 441,
 "resolve": {"axis": {"x": "independent", "y": "independent"}},
 "layer": [
  {
   "data": {"name": "isoR"},
   "mark": {"type": "line", "strokeWidth": 2, "clip": true},
   "encoding": {
    "x": {"field": "x", "type": "quantitative", "scale": {"domain": [-1, 4], "nice": false, "zero": false},
      "axis": {"orient": "bottom", "values": [-1,-0.9,-0.8,-0.7,-0.6,-0.5,-0.4,-0.3,-0.2,-0.1,0,0.1,0.2,0.3,0.4,0.5,0.6,0.7,0.8,0.9,1,1.1,1.2,1.3,1.4,1.5,1.6,1.7,1.8,1.9,2,2.1,2.2,2.3,2.4,2.5,2.6,2.7,2.8,2.9,3,3.1,3.2,3.3,3.4,3.5,3.6,3.7,3.8,3.9,4],
        "labelExpr": "abs(datum.value - round(datum.value)) < 0.001 ? format(round(datum.value), 'd') : ''",
        "tickSize": {"condition": {"test": "abs(datum.value - round(datum.value)) < 0.001", "value": -8}, "value": -4},
        "labelPadding": 28, "title": "F555W - F814W", "titlePadding": 14}},
    "y": {"field": "y", "type": "quantitative", "scale": {"domain": [-2.5, 2], "reverse": true, "nice": false, "zero": false},
      "axis": {"orient": "left", "values": [-2.5,-2.4,-2.3,-2.2,-2.1,-2,-1.9,-1.8,-1.7,-1.6,-1.5,-1.4,-1.3,-1.2,-1.1,-1,-0.9,-0.8,-0.7,-0.6,-0.5,-0.4,-0.3,-0.2,-0.1,0,0.1,0.2,0.3,0.4,0.5,0.6,0.7,0.8,0.9,1,1.1,1.2,1.3,1.4,1.5,1.6,1.7,1.8,1.9,2],
        "labelExpr": "abs(datum.value - round(datum.value)) < 0.001 ? format(round(datum.value), 'd') : ''",
        "tickSize": {"condition": {"test": "abs(datum.value - round(datum.value)) < 0.001", "value": -8}, "value": -4},
        "labelPadding": 20, "title": "F336W - F438W", "titlePadding": 4}},
    "color": {"field": "a", "type": "nominal",
      "scale": {"domain": ["6.55","6.85","7.0","7.2","7.5","7.8","8.0"], "range": ["#43105a","#1010c8","#10c0f0","#80e040","#f0b818","#f07818","#e01010"]},
      "legend": {"title": null, "orient": "none", "legendX": 303, "legendY": 5, "symbolType": "M-2.4,0H2.4", "symbolSize": 196, "symbolStrokeWidth": 2,
        "labelFont": "Liberation Serif", "labelFontSize": 14, "labelExpr": "'logτ=' + datum.label", "rowPadding": -1, "padding": 0, "labelOffset": 20}},
    "detail": {"field": "s"},
    "order": {"field": "i", "type": "quantitative"}
   }
  },
  {
   "data": {"name": "ptsR"},
   "mark": {"type": "point", "shape": "M-1,-1L1,1M-1,1L1,-1", "filled": false, "size": 160, "strokeWidth": 2, "color": "#2163e0", "opacity": 1},
   "encoding": {
    "x": {"field": "x", "type": "quantitative", "scale": {"domain": [-1, 4], "nice": false, "zero": false},
      "axis": {"orient": "top", "values": [-1,-0.9,-0.8,-0.7,-0.6,-0.5,-0.4,-0.3,-0.2,-0.1,0,0.1,0.2,0.3,0.4,0.5,0.6,0.7,0.8,0.9,1,1.1,1.2,1.3,1.4,1.5,1.6,1.7,1.8,1.9,2,2.1,2.2,2.3,2.4,2.5,2.6,2.7,2.8,2.9,3,3.1,3.2,3.3,3.4,3.5,3.6,3.7,3.8,3.9,4],
        "labels": false, "title": null,
        "tickSize": {"condition": {"test": "abs(datum.value - round(datum.value)) < 0.001", "value": -8}, "value": -4}}},
    "y": {"field": "y", "type": "quantitative", "scale": {"domain": [-2.5, 2], "reverse": true, "nice": false, "zero": false},
      "axis": {"orient": "right", "values": [-2.5,-2.4,-2.3,-2.2,-2.1,-2,-1.9,-1.8,-1.7,-1.6,-1.5,-1.4,-1.3,-1.2,-1.1,-1,-0.9,-0.8,-0.7,-0.6,-0.5,-0.4,-0.3,-0.2,-0.1,0,0.1,0.2,0.3,0.4,0.5,0.6,0.7,0.8,0.9,1,1.1,1.2,1.3,1.4,1.5,1.6,1.7,1.8,1.9,2],
        "labels": false, "title": null,
        "tickSize": {"condition": {"test": "abs(datum.value - round(datum.value)) < 0.001", "value": -8}, "value": -4}}}
   }
  },
  {
   "data": {"values": [{"t": "Region 29"}]},
   "mark": {"type": "text", "align": "left", "baseline": "middle", "font": "Liberation Sans", "fontWeight": "bold", "fontSize": 16.5, "color": "#000"},
   "encoding": {
    "text": {"field": "t"},
    "x": {"datum": -0.49, "type": "quantitative", "scale": {"domain": [-1, 4], "nice": false, "zero": false}, "axis": null},
    "y": {"datum": -2.316, "type": "quantitative", "scale": {"domain": [-2.5, 2], "reverse": true, "nice": false, "zero": false}, "axis": null}
   }
  },
  {
   "data": {"values": [{"t": "Extinction Corrected"}]},
   "mark": {"type": "text", "align": "left", "baseline": "middle", "font": "Liberation Sans", "fontWeight": "bold", "fontSize": 16.5, "color": "#000"},
   "encoding": {
    "text": {"field": "t"},
    "x": {"datum": -0.49, "type": "quantitative", "scale": {"domain": [-1, 4], "nice": false, "zero": false}, "axis": null},
    "y": {"datum": -2.079, "type": "quantitative", "scale": {"domain": [-2.5, 2], "reverse": true, "nice": false, "zero": false}, "axis": null}
   }
  }
 ]
}
]
}
